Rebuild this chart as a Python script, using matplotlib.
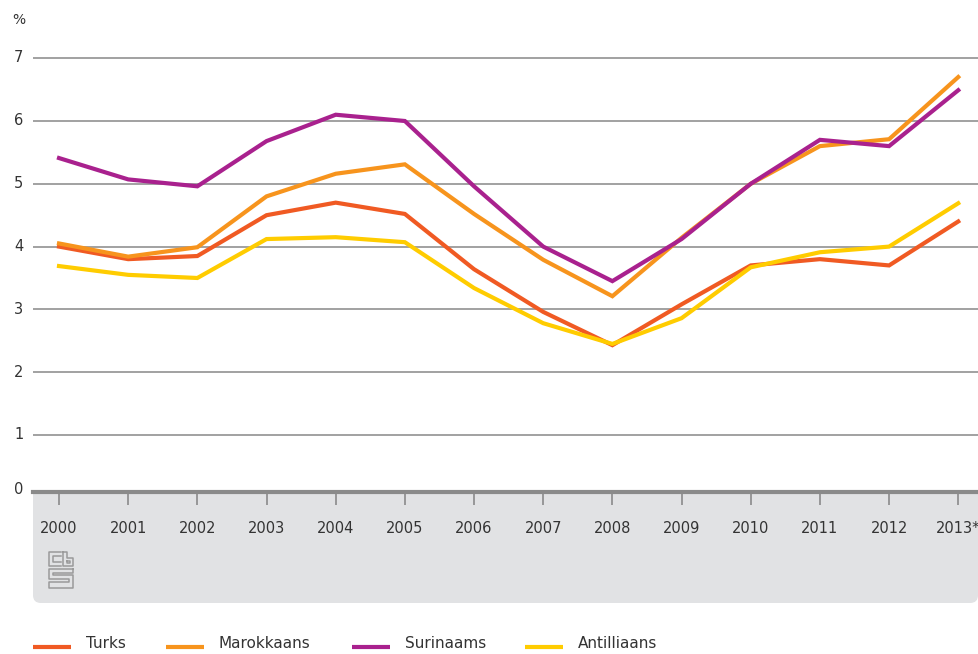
import matplotlib.pyplot as plt
from matplotlib.patches import FancyBboxPatch, Rectangle
from matplotlib.lines import Line2D

jaren = [2000, 2001, 2002, 2003, 2004, 2005, 2006, 2007, 2008, 2009, 2010, 2011, 2012, 2013]
jaar_labels = ["2000", "2001", "2002", "2003", "2004", "2005", "2006", "2007",
               "2008", "2009", "2010", "2011", "2012", "2013*"]

turks = [4.0, 3.8, 3.85, 4.5, 4.7, 4.52, 3.64, 2.96, 2.43, 3.08, 3.7, 3.8, 3.7, 4.4]
marokkaans = [4.05, 3.84, 3.99, 4.8, 5.16, 5.31, 4.52, 3.79, 3.21, 4.14, 5.0, 5.6, 5.71, 6.7]
surinaams = [5.41, 5.07, 4.96, 5.68, 6.1, 6.0, 4.96, 4.0, 3.45, 4.12, 5.0, 5.7, 5.6, 6.49]
antilliaans = [3.69, 3.55, 3.5, 4.12, 4.15, 4.07, 3.34, 2.78, 2.45, 2.86, 3.67, 3.91, 4.0, 4.69]

reeksen = ["Turks", "Marokkaans", "Surinaams", "Antilliaans"]
kleuren = ["#f05a23", "#f7941d", "#a9218e", "#ffcc00"]
y_ticks = [1, 2, 3, 4, 5, 6, 7]

W, H = 979, 654
fig = plt.figure(figsize=(W / 100, H / 100), dpi=100)
plt.rcParams['font.family'] = ['DejaVu Sans']

def fx(px):
    return px / W

def fy(py):
    return 1 - py / H

# grijze band onder de x-as (boven recht, onder afgerond)
grijs = "#e1e2e4"
fig.patches.append(Rectangle((fx(33), fy(580)), fx(979) - fx(33), fy(492) - fy(580),
                             transform=fig.transFigure, facecolor=grijs,
                             edgecolor="none", zorder=-2))
fig.patches.append(FancyBboxPatch((fx(33), fy(603)), fx(978) - fx(33), fy(560) - fy(603),
                                  boxstyle="round,pad=0,rounding_size=0.008",
                                  transform=fig.transFigure, facecolor=grijs,
                                  edgecolor="none", mutation_aspect=W / H, zorder=-2))

ax = fig.add_axes([fx(33), fy(492), fx(979) - fx(33), fy(40) - fy(492)])
ax.set_facecolor("none")
ax.set_xlim(1999.624, 2013.30)
ax.set_ylim(0.092, 7.29)

for v in y_ticks:
    ax.axhline(v, color="#9a9a9a", lw=1.3, zorder=1)

for naam, data, kleur in zip(reeksen, [turks, marokkaans, surinaams, antilliaans], kleuren):
    ax.plot(jaren, data, color=kleur, lw=3.0, solid_joinstyle="miter", zorder=3, label=naam)

for s in ["top", "right", "left"]:
    ax.spines[s].set_visible(False)
ax.spines["bottom"].set_color("#8a8a8a")
ax.spines["bottom"].set_linewidth(3)
ax.set_yticks([])
ax.set_xticks(jaren)
ax.set_xticklabels(jaar_labels, fontsize=10.5, color="#333333")
ax.tick_params(axis="x", direction="out", length=9, width=1.2, color="#8a8a8a", pad=12)

# y-as labels
for v in y_ticks:
    fig.text(fx(14), fy(497.8 - v * 62.83), str(v), fontsize=10.5, color="#333333",
             ha="left", va="center")
fig.text(fx(14), fy(489), "0", fontsize=10.5, color="#333333", ha="left", va="center")
fig.text(fx(12), fy(20), "%", fontsize=10, color="#333333", ha="left", va="center")

# cbs logo (vereenvoudigd)
logo = [
    [(61, 552), (49, 552), (49, 566), (61, 566)],
    [(61, 556), (53, 556), (53, 562), (61, 562)],
    [(63, 552), (63, 566), (73, 566), (73, 558), (67, 558), (67, 552), (63, 552)],
    [(67, 561), (70, 561), (70, 563), (67, 563), (67, 561)],
    [(73, 569), (49, 569), (49, 579), (69, 579), (69, 582), (49, 582), (49, 588),
     (73, 588), (73, 575), (53, 575), (53, 573), (73, 573), (73, 569)],
]
for pts in logo:
    xs = [fx(p[0]) for p in pts]
    ys = [fy(p[1]) for p in pts]
    fig.lines.append(Line2D(xs, ys, transform=fig.transFigure, color="#9a9a9a", lw=1.1))

# legenda
leg_x = [33, 166, 352, 525]
for naam, kleur, lx in zip(reeksen, kleuren, leg_x):
    fig.lines.append(Line2D([fx(lx), fx(lx + 38)], [fy(647), fy(647)],
                            transform=fig.transFigure, color=kleur, lw=3.0,
                            solid_capstyle="butt"))
    fig.text(fx(lx + 53), fy(643), naam, fontsize=11, color="#333333",
             ha="left", va="center")

fig.savefig("out.png", dpi=100)
